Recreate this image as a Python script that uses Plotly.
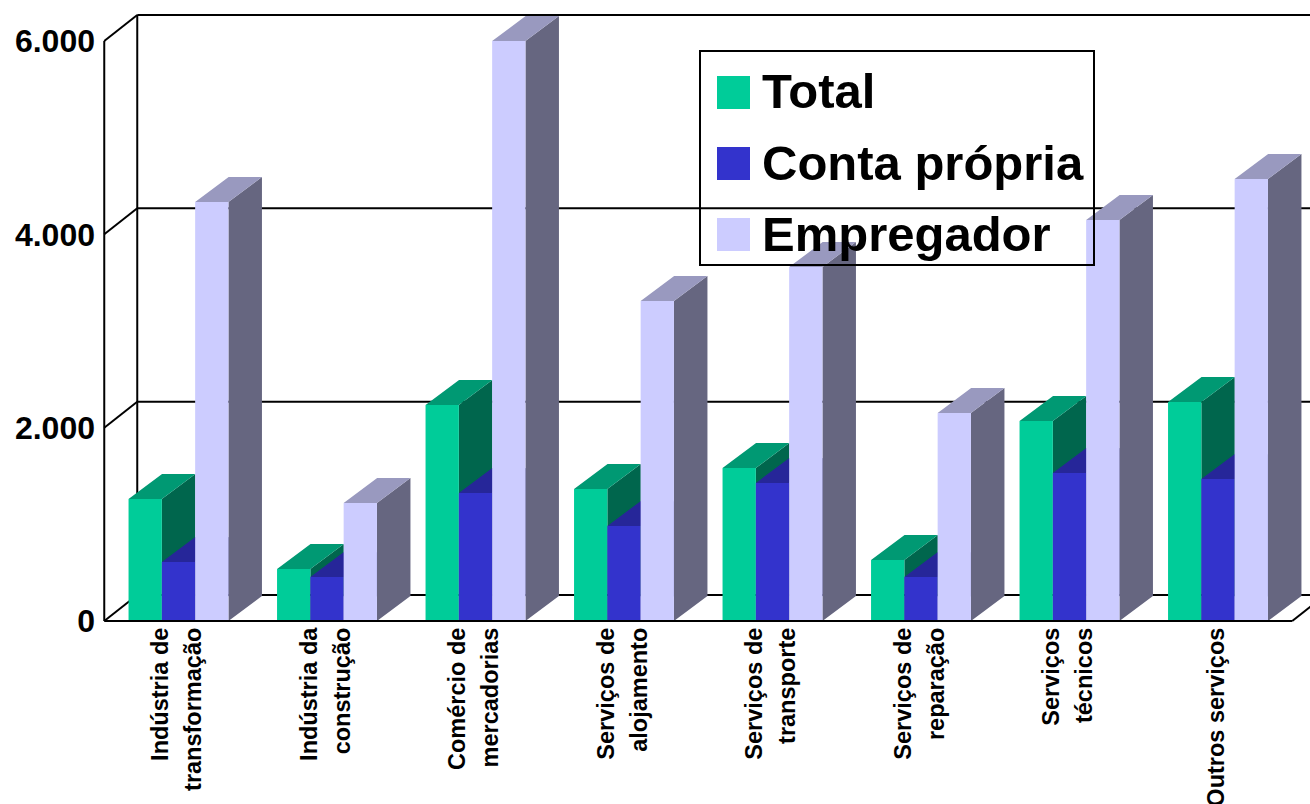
import plotly.graph_objects as go

# ---- data ----
categories = [
    ["Indústria de", "transformação"],
    ["Indústria da", "construção"],
    ["Comércio de", "mercadorias"],
    ["Serviços de", "alojamento"],
    ["Serviços de", "transporte"],
    ["Serviços de", "reparação"],
    ["Serviços", "técnicos"],
    ["Outros serviços"],
]
total = [1262, 538, 2234, 1365, 1583, 631, 2069, 2265]
conta_propria = [610, 455, 1324, 983, 1428, 455, 1531, 1469]
empregador = [4334, 1220, 6000, 3310, 3662, 2152, 4148, 4572]
y_ticks = [0, 2000, 4000, 6000]
y_labels = ["0", "2.000", "4.000", "6.000"]
series_names = ["Total", "Conta própria", "Empregador"]

# ---- styles / geometry of the pseudo-3D view ----
W, H = 1310, 804
M_L, M_B = 100, 178
CAT_PX = 148.5            # pixels per category
X0_PX = 178.5             # pixel of first category centre
Y0_PX = 621               # pixel of value 0
PX_PER_VAL = 580 / 6000
BAR_W = 33.3 / CAT_PX
DX = 33.5 / CAT_PX
DY = 25 / PX_PER_VAL
WALL_DX = 33 / CAT_PX
WALL_DY = 26 / PX_PER_VAL
FACE_COLORS = [
    ("#00CC99", "#009973", "#00664D"),
    ("#3333CC", "#262699", "#1A1A66"),
    ("#CCCCFF", "#9999BF", "#666680"),
]
LINE = dict(color="black", width=2)
FONT = "Liberation Sans, Arial, sans-serif"
LABEL_SHIFT = -1.5 / CAT_PX

x_range = [(M_L - X0_PX) / CAT_PX, (W - X0_PX) / CAT_PX]
y_range = [-(H - M_B - Y0_PX) / PX_PER_VAL, Y0_PX / PX_PER_VAL]


def paper_x(px):
    return (px - M_L) / (W - M_L)


def paper_y(py):
    return 1 - py / (H - M_B)


fig = go.Figure()

# Bars, left to right inside each group so nearer faces overlay
all_values = [total, conta_propria, empregador]
for s, (values, colors) in enumerate(zip(all_values, FACE_COLORS)):
    front_x, front_y, top_x, top_y, side_x, side_y = [], [], [], [], [], []
    for i, v in enumerate(values):
        l = i + (s - 1.5) * BAR_W
        r = l + BAR_W
        front_x += [l, r, r, l, l, None]
        front_y += [0, 0, v, v, 0, None]
        top_x += [l, r, r + DX, l + DX, l, None]
        top_y += [v, v, v + DY, v + DY, v, None]
        side_x += [r, r + DX, r + DX, r, r, None]
        side_y += [0, DY, v + DY, v, 0, None]
    for xs, ys, c, nm in (
        (side_x, side_y, colors[2], series_names[s] + " (lado)"),
        (top_x, top_y, colors[1], series_names[s] + " (topo)"),
        (front_x, front_y, colors[0], series_names[s]),
    ):
        fig.add_trace(go.Scatter(
            x=xs, y=ys, mode="lines", fill="toself", fillcolor=c,
            line=dict(width=0, color=c), name=nm, showlegend=False,
            hoverinfo="skip",
        ))

shapes = []
# Walls and gridlines
x_left = -0.5
x_back = x_left + WALL_DX
x_end = x_left + 8
for t in y_ticks:
    shapes.append(dict(type="line", xref="x", yref="y", x0=x_left, y0=t,
                       x1=x_back, y1=t + WALL_DY, line=LINE, layer="below"))
    shapes.append(dict(type="line", xref="x", yref="y", x0=x_back, y0=t + WALL_DY,
                       x1=x_range[1], y1=t + WALL_DY, line=LINE, layer="below"))
shapes.append(dict(type="line", xref="x", yref="y", x0=x_left, y0=0, x1=x_left,
                   y1=y_ticks[-1], line=LINE, layer="below"))
shapes.append(dict(type="line", xref="x", yref="y", x0=x_back, y0=WALL_DY, x1=x_back,
                   y1=y_ticks[-1] + WALL_DY, line=LINE, layer="below"))
shapes.append(dict(type="line", xref="x", yref="y", x0=x_end, y0=0,
                   x1=x_end + WALL_DX, y1=WALL_DY, line=LINE, layer="below"))
# White legend ground sits under the bars, which show through it
box = dict(x0=paper_x(700), x1=paper_x(1094), y0=paper_y(265), y1=paper_y(51),
           xref="paper", yref="paper", type="rect")
shapes.append(dict(box, fillcolor="white", line=dict(width=0), layer="below"))
# Front floor line above the bars
shapes.append(dict(type="line", xref="x", yref="y", x0=x_left, y0=0, x1=x_end, y1=0,
                   line=LINE, layer="above"))
shapes.append(dict(box, line=LINE, layer="above"))

# Legend
annotations = []
legend_rows = [(76, 91), (147, 163), (218, 234)]
for (sw_top, text_mid), name, colors in zip(legend_rows, series_names, FACE_COLORS):
    shapes.append(dict(type="rect", xref="paper", yref="paper",
                       x0=paper_x(717), x1=paper_x(750),
                       y0=paper_y(sw_top + 33), y1=paper_y(sw_top),
                       fillcolor=colors[0], line=dict(width=0), layer="above"))
    annotations.append(dict(xref="paper", yref="paper", x=paper_x(760), y=paper_y(text_mid),
                            xanchor="left", yanchor="middle", text=f"<b>{name}</b>",
                            showarrow=False, font=dict(family=FONT, size=49, color="black")))

# One tick per text line, so the two lines sit on either side of the group centre
x_tickvals, x_ticktext = [], []
for i, lines in enumerate(categories):
    if len(lines) == 1:
        x_tickvals.append(i + LABEL_SHIFT)
        x_ticktext.append(f"<b>{lines[0]}</b>")
    else:
        x_tickvals += [i - 0.111 + LABEL_SHIFT, i + 0.111 + LABEL_SHIFT]
        x_ticktext += [f"<b>{lines[0]}</b>", f"<b>{lines[1]}</b>"]

fig.update_layout(
    width=W, height=H, autosize=False,
    margin=dict(l=M_L, r=0, t=0, b=M_B, pad=0),
    paper_bgcolor="white", plot_bgcolor="white",
    showlegend=False,
    shapes=shapes, annotations=annotations,
    xaxis=dict(range=x_range, tickmode="array", tickvals=x_tickvals, ticktext=x_ticktext,
               tickangle=-90, ticks="", showgrid=False, zeroline=False, showline=False,
               ticklabeloverflow="allow", automargin=False, ticklabelstandoff=-4,
               tickfont=dict(family=FONT, size=23.5, color="black")),
    yaxis=dict(range=y_range, tickmode="array", tickvals=y_ticks, ticktext=[f"<b>{t}</b>" for t in y_labels],
               ticks="", showgrid=False, zeroline=False, showline=False, automargin=False,
               ticklabelstandoff=4,
               tickfont=dict(family=FONT, size=32, color="black")),
)

fig.write_html("out.html", config=dict(displayModeBar=False),
               post_script="document.body.style.margin='0';document.documentElement.style.margin='0';")
